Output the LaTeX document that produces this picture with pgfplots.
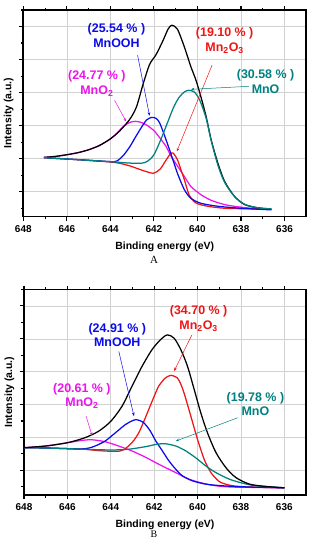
\documentclass[border=0pt]{standalone}
\usepackage{fontspec}
\setmainfont{Liberation Sans}
\newfontfamily\capserif{Liberation Serif}
\usepackage{pgfplots}
\pgfplotsset{compat=1.18}
\usetikzlibrary{arrows.meta}

\definecolor{mnteal}{RGB}{0,128,128}
\definecolor{mnblue}{RGB}{10,10,235}
\definecolor{mnred}{RGB}{240,20,20}
\definecolor{mnmag}{RGB}{235,20,235}

\newcommand{\annfont}{\fontsize{12.5}{14.5}\selectfont\bfseries}

\tikzset{callout/.style={line width=0.5bp, -{Stealth[length=3.5bp,width=2.8bp]}}}

\pgfplotsset{
  xpsframe/.style={
    scale only axis,
    width=283bp, height=206.5bp,
    x dir=reverse,
    xmin=635, xmax=648, ymin=0.25, ymax=6.5,
    xtick={636,638,...,648}, minor xtick={637,639,...,647},
    ytick={1,...,6}, minor ytick={0.5,1.5,...,6.5}, yticklabels={},
    xtick pos=both, ytick pos=left, xticklabel pos=lower,
    tick align=outside,
    major tick length=4bp, minor tick length=2.5bp,
    every tick/.style={black, line width=1.1bp},
    grid=major,
    major grid style={black!18, line width=0.6bp},
    axis line style={line width=1.7bp},
    /pgf/number format/assume math mode=true,
    xticklabel style={font=\bfseries\fontsize{10}{12}\selectfont, yshift=-1.5bp},
    xlabel={Binding energy (eV)},
    xlabel style={font=\bfseries\fontsize{10.5}{12}\selectfont,
      at={(axis description cs:0.5,-0.145)}, anchor=center},
    ylabel={Intensity (a.u.)},
    ylabel style={font=\bfseries\fontsize{10.5}{12}\selectfont,
      at={(axis description cs:-0.052,0.5)}, anchor=center},
    every axis plot/.append style={line width=1.25bp, smooth, tension=0.45},
  },
}

\begin{document}
\begin{tikzpicture}
\useasboundingbox (0,0) rectangle (311bp,-539bp);

% ---------------- spectrum A ----------------
\begin{axis}[xpsframe, at={(23.3bp,-10bp)}, anchor=north west]
% MnO2
\addplot[mnmag] coordinates {
(647.05,2.04)(646.5,2.07)(646,2.12)(645.5,2.18)(645,2.27)(644.5,2.4)
(644.0,2.6)(643.7,2.77)(643.4,2.98)(643.1,3.1)(642.85,3.13)(642.6,3.1)
(642.34,3.02)(642.0,2.85)(641.72,2.62)(641.45,2.38)(641.23,2.1)(640.92,1.78)
(640.6,1.46)(640.3,1.16)(639.84,0.91)(639.37,0.74)(638.75,0.61)(638.1,0.54)
(637.5,0.5)(636.6,0.48)};
% Mn2O3
\addplot[mnred] coordinates {
(647.05,2.03)(646,1.99)(645,1.95)(644,1.9)(643.57,1.86)(643.1,1.78)
(642.8,1.71)(642.4,1.62)(642.03,1.56)(641.72,1.68)(641.45,1.95)(641.25,2.14)
(641.12,2.17)(640.92,1.97)(640.75,1.65)(640.6,1.36)(640.38,0.9)(640.07,0.66)
(639.53,0.56)(638.75,0.5)(637.5,0.48)(636.6,0.47)};
% MnOOH
\addplot[mnblue] coordinates {
(647.05,2.03)(646,1.99)(645,1.95)(644,1.91)(643.7,1.93)(643.4,2.1)
(643.1,2.37)(642.85,2.65)(642.6,2.92)(642.34,3.17)(642.1,3.25)(641.9,3.22)
(641.75,3.1)(641.55,2.77)(641.23,2.17)(640.92,1.56)(640.6,1.06)(640.3,0.8)
(639.84,0.65)(639.06,0.56)(638.0,0.5)(636.6,0.45)};
% envelope
\addplot[black] coordinates {
(647.05,2.04)(646.5,2.07)(646,2.12)(645.5,2.18)(645,2.27)(644.5,2.4)
(644,2.6)(643.57,2.84)(643.1,3.2)(642.8,3.57)(642.5,4.25)(642.2,4.85)
(641.9,5.15)(641.6,5.55)(641.35,5.92)(641.18,6.04)(640.92,5.92)(640.6,5.38)
(640.3,4.78)(640.07,4.38)(639.84,3.87)(639.6,3.27)(639.37,2.57)(639.06,1.86)
(638.75,1.31)(638.3,0.86)(637.83,0.61)(637.2,0.51)(636.6,0.48)};
% MnO
\addplot[mnteal] coordinates {
(647.05,2.03)(646,1.99)(645,1.95)(644,1.91)(643.2,1.87)(642.6,1.86)
(642.3,1.92)(642.0,2.12)(641.7,2.55)(641.4,3.05)(641.1,3.55)(640.85,3.85)
(640.6,4.02)(640.4,4.07)(640.15,4.02)(639.9,3.78)(639.6,3.22)(639.37,2.55)
(639.06,1.8)(638.75,1.28)(638.3,0.86)(637.83,0.62)(637.2,0.51)(636.6,0.48)};

\node[mnblue, font=\annfont, align=center] at (axis cs:643.72,5.72) {(25.54 \% )\\MnOOH};
\draw[mnblue, callout] (axis cs:642.75,5.13) -- (axis cs:642.2,3.3);
\node[mnred, font=\annfont, align=center] at (axis cs:638.75,5.57) {(19.10 \% )\\Mn\textsubscript{2}O\textsubscript{3}};
\draw[mnred, callout] (axis cs:639.33,4.83) -- (axis cs:640.95,2.22);
\node[mnmag, font=\annfont, align=center] at (axis cs:644.62,4.28) {(24.77 \% )\\MnO\textsubscript{2}};
\draw[mnmag, callout] (axis cs:643.81,3.77) -- (axis cs:643.27,3.12);
\node[mnteal, font=\annfont, align=center] at (axis cs:636.87,4.34) {(30.58 \% )\\MnO};
\draw[mnteal, callout] (axis cs:637.64,4.19) -- (axis cs:640.3,4.1);
\end{axis}
\node[font=\capserif\fontsize{11}{13}\selectfont] at (154bp,-260bp) {A};

% ---------------- spectrum B ----------------
\begin{axis}[xpsframe, at={(24bp,-289.5bp)}, anchor=north west, width=282bp, height=205.5bp]
% MnO2
\addplot[mnmag] coordinates {
(648,1.69)(647,1.74)(646,1.84)(645.34,1.91)(644.87,1.93)(644.26,1.87)
(643.64,1.74)(643.02,1.59)(642.4,1.4)(642.0,1.26)(641.62,1.13)(641,0.93)
(640.39,0.73)(639.77,0.61)(639.15,0.53)(638.3,0.49)(636,0.47)};
% Mn2O3
\addplot[mnred] coordinates {
(648,1.69)(647,1.68)(646,1.66)(645.2,1.64)(644.56,1.6)(644,1.58)
(643.64,1.58)(643.4,1.63)(643.18,1.74)(642.95,1.9)(642.71,2.14)(642.5,2.45)
(642.25,2.85)(642.0,3.25)(641.79,3.56)(641.5,3.8)(641.23,3.89)(640.93,3.81)
(640.77,3.62)(640.62,3.35)(640.31,2.65)(640.0,1.94)(639.69,1.33)(639.38,0.93)
(639.0,0.66)(638.53,0.55)(637.9,0.5)(636,0.47)};
% MnOOH
\addplot[mnblue] coordinates {
(648,1.69)(647,1.68)(646,1.66)(645.34,1.65)(645,1.68)(644.72,1.74)
(644.26,1.89)(643.79,2.14)(643.33,2.39)(643.0,2.51)(642.8,2.54)(642.5,2.46)
(642.2,2.22)(641.93,1.9)(641.62,1.59)(641.31,1.28)(641.0,1.03)(640.69,0.83)
(640.23,0.68)(639.61,0.58)(638.84,0.53)(637.5,0.49)(636,0.47)};
% MnO
\addplot[mnteal] coordinates {
(648,1.69)(647,1.68)(646,1.66)(645.2,1.64)(644,1.62)(643.2,1.64)
(642.4,1.72)(641.9,1.79)(641.5,1.81)(641,1.74)(640.54,1.59)(640.08,1.38)
(639.61,1.13)(639.15,0.93)(638.53,0.73)(637.92,0.61)(637.3,0.53)(636,0.47)};
% envelope
\addplot[black] coordinates {
(648,1.69)(647,1.74)(646,1.84)(645.2,1.99)(644.56,2.19)(644,2.49)
(643.48,2.95)(643.02,3.56)(642.56,4.16)(642.1,4.67)(641.7,4.98)(641.39,5.12)
(641.08,5.02)(640.77,4.67)(640.46,4.16)(640.15,3.45)(639.85,2.75)(639.54,2.14)
(639.15,1.54)(638.69,1.08)(638.23,0.78)(637.6,0.58)(636.84,0.51)(636,0.47)};

\node[mnred, font=\annfont, align=center] at (axis cs:639.95,5.62) {(34.70 \% )\\Mn\textsubscript{2}O\textsubscript{3}};
\draw[mnred, callout] (axis cs:640.26,5.12) -- (axis cs:641.08,4.02);
\node[mnblue, font=\annfont, align=center] at (axis cs:643.7,5.12) {(24.91 \% )\\MnOOH};
\draw[mnblue, callout] (axis cs:643.63,4.62) -- (axis cs:642.93,2.65);
\node[mnmag, font=\annfont, align=center] at (axis cs:645.33,3.27) {(20.61 \% )\\MnO\textsubscript{2}};
\draw[mnmag, callout] (axis cs:645.14,2.65) -- (axis cs:644.86,2.05);
\node[mnteal, font=\annfont, align=center] at (axis cs:637.33,3.02) {(19.78 \% )\\MnO};
\draw[mnteal, callout] (axis cs:638.15,2.6) -- (axis cs:641.0,1.89);
\end{axis}
\node[font=\capserif\fontsize{10}{12}\selectfont, anchor=south, inner sep=0.5bp] at (154bp,-538.7bp) {B};
\end{tikzpicture}
\end{document}
